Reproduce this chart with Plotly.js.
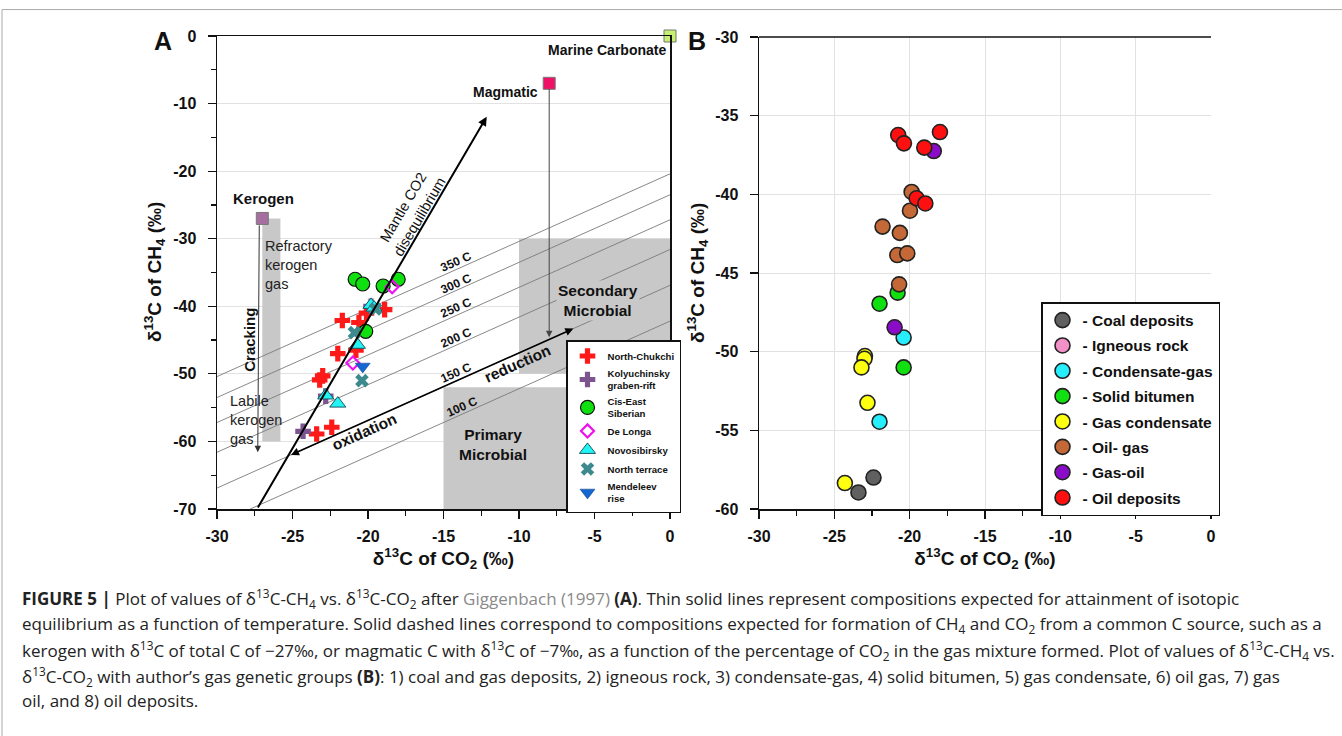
<!DOCTYPE html>
<html><head><meta charset="utf-8">
<script src="https://cdn.plot.ly/plotly-3.0.1.min.js"></script>
<style>html,body{margin:0;padding:0;background:#fff;}#chart{width:1342px;height:736px;}</style>
</head><body><div id="chart"></div>
<script>
// ---------- Panel A data ----------
const northChukchiX = [-18.9, -21.7, -20.6, -20.1, -22.0, -20.8, -23.0, -23.2, -23.4, -22.4];
const northChukchiY = [-40.5, -42.1, -42.4, -41.0, -47.0, -46.5, -50.3, -50.9, -58.9, -57.9];
const kolyuchinskyX = [-24.3, -22.8, -19.8];
const kolyuchinskyY = [-58.5, -53.3, -40.0];
const cisEastX = [-20.85, -20.35, -19.0, -18.0, -20.15];
const cisEastY = [-36.0, -36.7, -37.0, -36.0, -43.7];
const deLongaX = [-18.4, -21.0];
const deLongaY = [-37.1, -48.4];
const novosibirskyX = [-19.8, -19.6, -20.7, -22.8, -22.0];
const novosibirskyY = [-39.8, -40.2, -45.7, -53.2, -54.4];
const northTerraceX = [-20.9, -20.4, -19.5];
const northTerraceY = [-43.9, -51.0, -40.4];
const mendeleevX = [-20.35];
const mendeleevY = [-48.9];

// end members
const endNames = ['Kerogen', 'Magmatic', 'Marine Carbonate'];
const endX = [-27, -8, 0];
const endY = [-27, -7, 0];

// isotherms: d13C(CO2) - d13C(CH4)
const isoLabels = ['350 C', '300 C', '250 C', '200 C', '150 C', '100 C'];
const isoDelta = [20.4, 23.5, 27.2, 31.6, 36.9, 42.2];

// arrows (tail -> head)
const mantleArrowX = [-27.35, -12.14];
const mantleArrowY = [-70, -11.94];
const redoxArrowX = [-25.2, -6.4];
const redoxArrowY = [-62.1, -43.3];
const labileArrowX = [-27.2, -27.3];
const labileArrowY = [-27.8, -61.6];
const magmaticArrowX = [-8, -8];
const magmaticArrowY = [-7.6, -44.6];

// fields
const refractoryBox = {x: [-27, -25.8], y: [-60, -27]};
const secondaryBox = {x: [-10, 0], y: [-50, -30]};
const primaryBox = {x: [-15, 0], y: [-70, -52]};

// tick labels
const tickA_X = [-30, -25, -20, -15, -10, -5, 0];
const tickA_Y = [-70, -60, -50, -40, -30, -20, -10, 0];
const tickB_X = [-30, -25, -20, -15, -10, -5, 0];
const tickB_Y = [-60, -55, -50, -45, -40, -35, -30];
const lab = function (arr) { return arr.map(function (v) { return '<b>' + String(v) + '</b>'; }); };

// ---------- Panel B data ----------
const coalX = [-22.4, -23.4];
const coalY = [-58.0, -58.95];
const igneousX = [];
const igneousY = [];
const condGasX = [-20.4, -22.0];
const condGasY = [-49.1, -54.45];
const bitumenX = [-20.8, -22.0, -20.4];
const bitumenY = [-46.25, -46.95, -51.0];
const gasCondX = [-22.97, -23.0, -23.2, -22.8, -24.3];
const gasCondY = [-50.28, -50.45, -51.0, -53.25, -58.35];
const oilGasX = [-19.87, -19.98, -21.8, -20.65, -20.82, -20.16, -20.7];
const oilGasY = [-39.85, -41.04, -42.05, -42.45, -43.86, -43.75, -45.72];
const gasOilX = [-18.4, -21.0];
const gasOilY = [-37.25, -48.45];
const oilX = [-20.76, -20.38, -19.03, -17.99, -19.54, -18.96];
const oilY = [-36.23, -36.76, -37.03, -36.04, -40.25, -40.58];

// ---------- traces ----------
const F = 'Liberation Sans, Arial, sans-serif';
const traces = [];
function addA(name, x, y, marker) {
  traces.push({type: 'scatter', mode: 'markers', name: name, x: x, y: y, xaxis: 'x', yaxis: 'y',
    marker: marker, legend: 'legend', cliponaxis: false});
}
addA('North-Chukchi', northChukchiX, northChukchiY, {symbol: 'cross', size: 13, color: '#ff1a1a', line: {width: 0}});
addA('Kolyuchinsky<br>graben-rift', kolyuchinskyX, kolyuchinskyY, {symbol: 'cross', size: 13, color: '#7b5490', line: {width: 0}});
addA('Cis-East<br>Siberian', cisEastX, cisEastY, {symbol: 'circle', size: 14, color: '#10e010', line: {width: 1.2, color: '#111'}});
addA('De Longa', deLongaX, deLongaY, {symbol: 'diamond-open', size: 10, color: '#ee10ee', line: {width: 2.2, color: '#ee10ee'}});
addA('Novosibirsky', novosibirskyX, novosibirskyY, {symbol: 'triangle-up', size: 14, color: '#22f4f4', line: {width: 1, color: '#1a5a66'}});
addA('North terrace', northTerraceX, northTerraceY, {symbol: 'x', size: 12, color: '#3c8a8e', line: {width: 0}});
addA('Mendeleev<br>rise', mendeleevX, mendeleevY, {symbol: 'triangle-down', size: 13, color: '#1466d0', line: {width: 0.5, color: '#0a3a80'}});

// end member squares
traces.push({type: 'scatter', mode: 'markers', x: endX, y: endY, text: endNames, xaxis: 'x', yaxis: 'y', showlegend: false,
  cliponaxis: false,
  marker: {symbol: 'square', size: 12, color: ['#a5709f', '#ee1166', '#c8f070'], line: {width: 1, color: '#777'}}});

function addB(name, x, y, color) {
  traces.push({type: 'scatter', mode: 'markers', name: name, x: x, y: y, xaxis: 'x2', yaxis: 'y2',
    legend: 'legend2', legendgroup: name,
    marker: {symbol: 'circle', size: 15, color: color, line: {width: 1.6, color: '#222'}}});
}
addB('- Coal deposits', coalX, coalY, '#606060');
addB('- Igneous rock', igneousX.length ? igneousX : [null], igneousY.length ? igneousY : [null], '#f490c8');
addB('- Condensate-gas', condGasX, condGasY, '#26eefc');
addB('- Solid bitumen', bitumenX, bitumenY, '#10e010');
addB('- Gas condensate', gasCondX, gasCondY, '#ffff10');
addB('- Oil- gas', oilGasX, oilGasY, '#c46838');
addB('- Gas-oil', gasOilX, gasOilY, '#8a0cc8');
addB('- Oil deposits', oilX, oilY, '#ff1010');

// ---------- shapes ----------
const shapes = [];
function box(b) {
  shapes.push({type: 'rect', xref: 'x', yref: 'y', x0: b.x[0], x1: b.x[1], y0: b.y[0], y1: b.y[1],
    fillcolor: '#c8c8c8', line: {width: 0}, layer: 'between'});
}
box(refractoryBox); box(secondaryBox); box(primaryBox);
isoDelta.forEach(function (d) {
  let x0 = -30, y0 = x0 - d;
  if (y0 < -70) { y0 = -70; x0 = y0 + d; }
  shapes.push({type: 'line', xref: 'x', yref: 'y', x0: x0, y0: y0, x1: 0, y1: -d,
    line: {color: '#7a7a7a', width: 0.9}, layer: 'between'});
});
// outer frame
shapes.push({type: 'line', xref: 'paper', yref: 'paper', x0: 0.0015, x1: 0.0015, y0: 0, y1: 0.987, line: {color: '#aaa', width: 1}});
shapes.push({type: 'line', xref: 'paper', yref: 'paper', x0: 0.0015, x1: 1, y0: 0.987, y1: 0.987, line: {color: '#aaa', width: 1}});

// ---------- annotations ----------
const ann = [];
function arrow(xs, ys, opts) {
  ann.push(Object.assign({xref: 'x', yref: 'y', axref: 'x', ayref: 'y', x: xs[1], y: ys[1], ax: xs[0], ay: ys[0],
    text: '', showarrow: true, arrowhead: 2, arrowsize: 1, arrowwidth: 1.5, arrowcolor: '#000'}, opts || {}));
}
arrow(mantleArrowX, mantleArrowY, {arrowwidth: 2, arrowsize: 0.9});
arrow(redoxArrowX, redoxArrowY, {arrowwidth: 1.6, arrowside: 'end+start', arrowsize: 1});
arrow(labileArrowX, labileArrowY, {arrowwidth: 1, arrowcolor: '#333', arrowsize: 1.3});
arrow(magmaticArrowX, magmaticArrowY, {arrowwidth: 1, arrowcolor: '#444', arrowsize: 1.3});

function txt(x, y, t, o) {
  ann.push(Object.assign({xref: 'x', yref: 'y', x: x, y: y, text: t, showarrow: false,
    font: {family: F, size: 14, color: '#111'}}, o || {}));
}
const bold = function (s) { return {family: F, size: s, color: '#111', weight: 'bold'}; };
txt(-26.9, -24.0, 'Kerogen', {font: bold(15)});
txt(-10.9, -8.3, 'Magmatic', {font: bold(14)});
txt(-0.15, -2.1, 'Marine Carbonate', {font: bold(14), xanchor: 'right'});
txt(-26.95, -33.9, 'Refractory<br>kerogen<br>gas', {xanchor: 'left', align: 'left', font: {family: F, size: 14.5, color: '#222'}});
txt(-27.9, -45.0, 'Cracking', {font: bold(15), textangle: -90});
txt(-29.25, -56.9, 'Labile<br>kerogen<br>gas', {xanchor: 'left', align: 'left', font: {family: F, size: 14.5, color: '#222'}});
txt(-17.1, -26.0, 'Mantle CO2<br>disequilibrium', {textangle: -59.7, font: {family: F, size: 14.5, color: '#111'}});
const isoLabX = [-14.2, -14.2, -14.2, -14.2, -14.2, -13.8];
const isoLabY = [-33.5, -36.7, -40.3, -44.7, -49.9, -54.9];
isoLabels.forEach(function (l, i) { txt(isoLabX[i], isoLabY[i], l, {textangle: -24, font: bold(12)}); });
txt(-20.2, -58.6, 'oxidation', {textangle: -24, font: bold(15.5)});
txt(-10.1, -48.4, 'reduction', {textangle: -24, font: bold(15.5)});
txt(-4.8, -39.1, 'Secondary<br>Microbial', {font: bold(15.5), bgcolor: '#c8c8c8'});
txt(-11.7, -60.5, 'Primary<br>Microbial', {font: bold(15.5)});

// panel letters
ann.push({xref: 'paper', yref: 'paper', x: 163 / 1342, y: 1 - 41 / 736, xanchor: 'center', yanchor: 'middle', text: 'A', showarrow: false, font: bold(25)});
ann.push({xref: 'paper', yref: 'paper', x: 697 / 1342, y: 1 - 41 / 736, xanchor: 'center', yanchor: 'middle', text: 'B', showarrow: false, font: bold(25)});

// y axis titles
const titleFont = {family: F, size: 19, color: '#111', weight: 'bold'};
const yTitle = 'δ<sup>13</sup>C of CH<sub>4</sub> (‰)';
ann.push({xref: 'paper', yref: 'paper', x: 154 / 1342, y: 1 - 272 / 736, xanchor: 'center', yanchor: 'middle', textangle: -90,
  text: yTitle, showarrow: false, font: titleFont});
ann.push({xref: 'paper', yref: 'paper', x: 697 / 1342, y: 1 - 273 / 736, xanchor: 'center', yanchor: 'middle', textangle: -90,
  text: yTitle, showarrow: false, font: titleFont});

// caption
const capLines = [
  '<b>FIGURE 5 |</b> Plot of values of δ<sup>13</sup>C-CH<sub>4</sub> vs. δ<sup>13</sup>C-CO<sub>2</sub> after <span style="color:#8a8a8a">Giggenbach (1997)</span> <b>(A)</b>. Thin solid lines represent compositions expected for attainment of isotopic',
  'equilibrium as a function of temperature. Solid dashed lines correspond to compositions expected for formation of CH<sub>4</sub> and CO<sub>2</sub> from a common C source, such as a',
  'kerogen with δ<sup>13</sup>C of total C of −27‰, or magmatic C with δ<sup>13</sup>C of −7‰, as a function of the percentage of CO<sub>2</sub> in the gas mixture formed. Plot of values of δ<sup>13</sup>C-CH<sub>4</sub> vs.',
  'δ<sup>13</sup>C-CO<sub>2</sub> with author’s gas genetic groups <b>(B)</b>: 1) coal and gas deposits, 2) igneous rock, 3) condensate-gas, 4) solid bitumen, 5) gas condensate, 6) oil gas, 7) gas',
  'oil, and 8) oil deposits.'
];
const capY = [598, 624, 650, 676, 700];
capLines.forEach(function (l, i) {
  ann.push({xref: 'paper', yref: 'paper', x: 20 / 1342, y: 1 - capY[i] / 736, xanchor: 'left', yanchor: 'middle',
    align: 'left', text: l, showarrow: false, font: {family: 'Open Sans, Noto Sans, sans-serif', size: 17, color: '#222'}});
});

const tickFont = {family: F, size: 16, color: '#111', weight: 'bold'};
const axBase = {showline: true, linecolor: '#111', linewidth: 1.5, ticks: 'outside', ticklen: 8, tickwidth: 1.2,
  tickcolor: '#111', tickfont: tickFont, zeroline: false, fixedrange: true, tickmode: 'array'};

const layout = {
  width: 1342, height: 736, margin: {l: 0, r: 0, t: 0, b: 0},
  paper_bgcolor: '#fff', plot_bgcolor: '#fff', showlegend: true,
  xaxis: Object.assign({}, axBase, {domain: [217 / 1342, 670 / 1342], range: [-30, 0],
    tickvals: tickA_X, ticktext: lab(tickA_X), ticklabelstandoff: 4,
    mirror: true, showgrid: false, minor: {ticks: 'outside', dtick: 2.5, tick0: 0, ticklen: 5, tickcolor: '#111', showgrid: false},
    title: {text: 'δ<sup>13</sup>C of CO<sub>2</sub> (‰)', font: titleFont, standoff: 4}, anchor: 'y'}),
  yaxis: Object.assign({}, axBase, {domain: [(736 - 509) / 736, (736 - 36) / 736], range: [-70, 0],
    tickvals: tickA_Y, ticktext: lab(tickA_Y), ticklabelstandoff: 8,
    mirror: true, showgrid: true, gridcolor: '#e2e2e2', gridwidth: 1,
    minor: {ticks: 'outside', dtick: 5, tick0: 0, ticklen: 5, tickcolor: '#111', showgrid: false}, anchor: 'x'}),
  xaxis2: Object.assign({}, axBase, {domain: [759 / 1342, 1211 / 1342], range: [-30, 0],
    tickvals: tickB_X, ticktext: lab(tickB_X), ticklabelstandoff: 4,
    showgrid: true, gridcolor: '#e2e2e2', minor: {ticks: 'outside', dtick: 2.5, tick0: 0, ticklen: 5, tickcolor: '#111', showgrid: false},
    title: {text: 'δ<sup>13</sup>C of CO<sub>2</sub> (‰)', font: titleFont, standoff: 4}, anchor: 'y2'}),
  yaxis2: Object.assign({}, axBase, {domain: [(736 - 509) / 736, (736 - 37) / 736], range: [-60, -30],
    tickvals: tickB_Y, ticktext: lab(tickB_Y), ticklabelstandoff: 8,
    showgrid: true, gridcolor: '#e2e2e2', anchor: 'x2'}),
  legend: {x: 566 / 1342, y: 1 - 340 / 736, xanchor: 'left', yanchor: 'top', bgcolor: '#fff', bordercolor: '#111',
    borderwidth: 1.5, font: {family: F, size: 9.6, color: '#111', weight: 'bold'}, tracegroupgap: 0, itemsizing: 'trace', itemwidth: 30},
  legend2: {x: 1041 / 1342, y: 1 - 302 / 736, xanchor: 'left', yanchor: 'top', bgcolor: '#fff', bordercolor: '#111',
    borderwidth: 1.5, font: {family: F, size: 15.5, color: '#111', weight: 'bold'}, tracegroupgap: 2.2, itemsizing: 'trace', itemwidth: 30},
  shapes: shapes, annotations: ann
};
// top border line of panel B
layout.shapes.push({type: 'line', xref: 'x2 domain', yref: 'y2 domain', x0: 0, x1: 1, y0: 1, y1: 1, line: {color: '#111', width: 1.5}});

Plotly.newPlot('chart', traces, layout, {staticPlot: true, displayModeBar: false});
</script></body></html>
